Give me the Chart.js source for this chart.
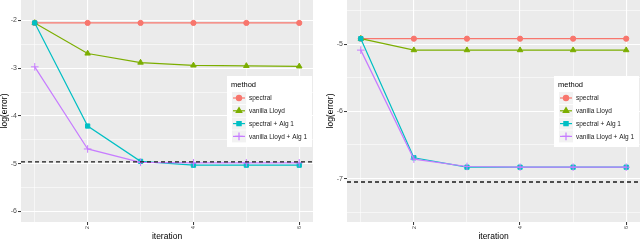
<!DOCTYPE html>
<html>
<head>
<meta charset="utf-8">
<script src="https://cdn.jsdelivr.net/npm/chart.js@4.4.1/dist/chart.umd.min.js"></script>
<style>
  html, body { margin:0; padding:0; background:#fff; }
  #wrap { position:relative; width:640px; height:241px; }
  canvas { position:absolute; top:0; }
</style>
</head>
<body>
<div id="wrap">
  <canvas id="chartLeft" width="320" height="241" style="left:0"></canvas>
  <canvas id="chartRight" width="320" height="241" style="left:320px"></canvas>
</div>
<script>
// ==================== Datos ====================
const iterations = [1, 2, 3, 4, 5, 6];
const methods = ["spectral", "vanilla Lloyd", "spectral + Alg 1", "vanilla Lloyd + Alg 1"];

// panel izquierdo
const leftSpectral    = [-2.05, -2.05, -2.05, -2.05, -2.05, -2.05];
const leftLloyd       = [-2.05, -2.69, -2.88, -2.94, -2.95, -2.96];
const leftSpectralAlg = [-2.05, -4.21, -4.95, -5.03, -5.03, -5.03];
const leftLloydAlg    = [-2.97, -4.69, -4.97, -4.98, -4.98, -4.98];
const leftRef = -4.96;

// panel derecho
const rightSpectral    = [-4.92, -4.92, -4.92, -4.92, -4.92, -4.92];
const rightLloyd       = [-4.92, -5.09, -5.09, -5.09, -5.09, -5.09];
const rightSpectralAlg = [-4.92, -6.69, -6.83, -6.83, -6.83, -6.83];
const rightLloydAlg    = [-5.09, -6.71, -6.82, -6.83, -6.83, -6.83];
const rightRef = -7.05;

// ticks
const xMajor = [2, 4, 6];
const xMinor = [1, 3, 5];
const leftYMajor  = [-6, -5, -4, -3, -2];
const leftYMinor  = [-5.5, -4.5, -3.5, -2.5];
const rightYMajor = [-7, -6, -5];
const rightYMinor = [-7.5, -6.5, -5.5, -4.5];

// ==================== Estilo ====================
const FONT = "'Liberation Sans', Arial, sans-serif";
const colors = ["#F8766D", "#7CAE00", "#00BFC4", "#C77CFF"];
const pointStyles = ["circle", "triangle", "rect", "cross"];
const pointRadius = [2.6, 3.2, 3, 3.8];

Chart.defaults.font.family = FONT;
Chart.defaults.animation = false;

// fondo gris del panel + línea punteada + leyenda
const ggPanel = {
  id: "ggPanel",
  beforeDraw(chart) {
    const { ctx, chartArea: a } = chart;
    ctx.save();
    ctx.fillStyle = "#EBEBEB";
    ctx.fillRect(a.left, a.top, a.right - a.left, a.bottom - a.top);
    ctx.restore();
  },
  afterDatasetsDraw(chart, args, opts) {
    const { ctx, chartArea: a } = chart;
    const y = chart.scales.y.getPixelForValue(opts.ref);
    ctx.save();
    ctx.strokeStyle = "#1a1a1a";
    ctx.lineWidth = 1.4;
    ctx.setLineDash([4, 3]);
    ctx.beginPath();
    ctx.moveTo(a.left, y);
    ctx.lineTo(a.right, y);
    ctx.stroke();
    ctx.restore();
  },
  afterDraw(chart) {
    const { ctx, chartArea: a } = chart;
    const w = 85, h = 71;
    const x0 = a.right - w - 1, y0 = 76;
    ctx.save();
    ctx.fillStyle = "#fff";
    ctx.fillRect(x0, y0, w, h);
    ctx.fillStyle = "#000";
    ctx.font = "7.5px " + FONT;
    ctx.textBaseline = "middle";
    ctx.fillText("method", x0 + 4, y0 + 9);
    chart.data.datasets.forEach((ds, i) => {
      const cy = y0 + 22 + i * 12.8;
      const kx = x0 + 5;
      ctx.fillStyle = "#F2F2F2";
      ctx.fillRect(kx, cy - 6, 14, 12);
      ctx.strokeStyle = ds.borderColor;
      ctx.lineWidth = 1.2;
      ctx.beginPath();
      ctx.moveTo(kx + 1, cy);
      ctx.lineTo(kx + 13, cy);
      ctx.stroke();
      ctx.fillStyle = ds.borderColor;
      Chart.helpers.drawPoint(ctx, {
        pointStyle: ds.pointStyle, radius: ds.pointRadius, rotation: 0, borderWidth: 1
      }, kx + 7, cy);
      ctx.fillStyle = "#1a1a1a";
      ctx.font = "6.5px " + FONT;
      ctx.fillText(ds.label, kx + 17, cy + 0.5);
    });
    ctx.restore();
  }
};

function makeSeries(list) {
  return list.map((vals, i) => ({
    label: methods[i],
    data: iterations.map((it, k) => ({ x: it, y: vals[k] })),
    borderColor: colors[i],
    backgroundColor: colors[i],
    pointBackgroundColor: colors[i],
    pointBorderColor: colors[i],
    pointStyle: pointStyles[i],
    pointRadius: pointRadius[i],
    pointBorderWidth: 1,
    borderWidth: 1.2,
    tension: 0,
    order: list.length - i
  }));
}

function buildChart(id, series, ref, yMin, yMax, yMajor, yMinor, yAxisWidth, padRight, titlePad) {
  const el = document.getElementById(id);
  const isMajorY = v => yMajor.includes(v);
  const isMajorX = v => xMajor.includes(v);
  return new Chart(el.getContext("2d"), {
    type: "line",
    data: { datasets: makeSeries(series) },
    options: {
      responsive: false,
      layout: { autoPadding: false, padding: { top: 0, right: padRight, bottom: 0, left: 0 } },
      scales: {
        x: {
          type: "linear",
          min: 0.74, max: 6.26,
          afterBuildTicks: s => { s.ticks = [...xMinor, ...xMajor].sort((a, b) => a - b).map(v => ({ value: v })); },
          afterFit: s => { s.height = 19; s.paddingLeft = 0; s.paddingRight = 0; },
          border: { display: false },
          grid: {
            color: "#fff",
            lineWidth: c => isMajorX(c.tick.value) ? 1.1 : 0.55,
            tickColor: c => isMajorX(c.tick.value) ? "#333" : "rgba(0,0,0,0)",
            tickLength: 3,
            tickWidth: 1
          },
          ticks: {
            color: "#4D4D4D",
            font: { size: 6 },
            padding: 1,
            minRotation: 90, maxRotation: 90,
            autoSkip: false,
            callback: v => isMajorX(v) ? String(v) : ""
          },
          title: {
            display: true, text: "iteration", color: "#000",
            font: { size: 8.5, lineHeight: 1 }, padding: { top: 0, bottom: 0 }
          }
        },
        y: {
          min: yMin, max: yMax,
          afterBuildTicks: s => { s.ticks = [...yMajor, ...yMinor].sort((a, b) => a - b).map(v => ({ value: v })); },
          afterFit: s => { s.width = yAxisWidth; s.paddingTop = 0; s.paddingBottom = 0; },
          border: { display: false },
          grid: {
            color: "#fff",
            lineWidth: c => isMajorY(c.tick.value) ? 1.1 : 0.55,
            tickColor: c => isMajorY(c.tick.value) ? "#333" : "rgba(0,0,0,0)",
            tickLength: 3,
            tickWidth: 1
          },
          ticks: {
            color: "#4D4D4D",
            font: { size: 7 },
            padding: 1,
            autoSkip: false,
            callback: v => isMajorY(v) ? String(v) : ""
          },
          title: {
            display: true, text: "log(error)", color: "#000",
            font: { size: 8.5, lineHeight: 1 }, padding: { top: titlePad, bottom: 0 }
          }
        }
      },
      plugins: {
        legend: { display: false },
        tooltip: { enabled: false },
        ggPanel: { ref }
      }
    },
    plugins: [ggPanel]
  });
}

buildChart("chartLeft",
  [leftSpectral, leftLloyd, leftSpectralAlg, leftLloydAlg], leftRef,
  -6.22, -1.57, leftYMajor, leftYMinor, 21, 7, 0);

buildChart("chartRight",
  [rightSpectral, rightLloyd, rightSpectralAlg, rightLloydAlg], rightRef,
  -7.645, -4.345, rightYMajor, rightYMinor, 27, 0, 6);
</script>
</body>
</html>
